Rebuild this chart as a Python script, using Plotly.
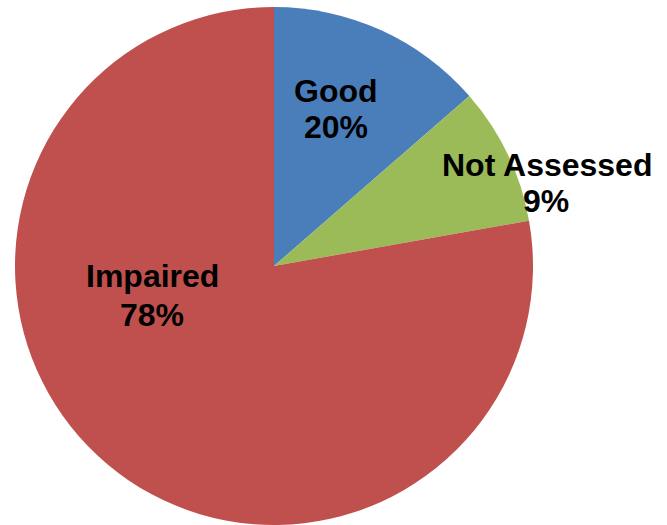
import plotly.graph_objects as go

categories = ["Good", "Not Assessed", "Impaired"]
values = [13.6, 8.6, 77.8]
pct_labels = ["20%", "9%", "78%"]  # as printed on the chart
colors = ["#4a7ebb", "#9bbb59", "#c0504d"]

W, H = 667, 525
ml, mr, mt, mb = 15, 134, 7, 0
pw, ph = W - ml - mr, H - mt - mb

fig = go.Figure(
    go.Pie(
        labels=categories,
        values=values,
        sort=False,
        direction="clockwise",
        rotation=0,
        marker=dict(colors=colors, line=dict(width=0)),
        textinfo="none",
        hoverinfo="label+percent",
        showlegend=False,
        automargin=False,
    )
)

# label placement in pixel coords (centre of each text line)
label_pos = {
    "Good": [(336, 91), (336, 127)],
    "Not Assessed": [(547, 165), (546, 201)],
    "Impaired": [(152, 276), (152, 315)],
}


def px_to_paper(x, y):
    return (x - ml) / pw, (H - mb - y) / ph


annotations = []
for cat, pct in zip(categories, pct_labels):
    for text, (x, y) in zip([cat, pct], label_pos[cat]):
        xp, yp = px_to_paper(x, y)
        annotations.append(
            dict(
                text=f"<b>{text}</b>",
                x=xp,
                y=yp,
                xref="paper",
                yref="paper",
                xanchor="center",
                yanchor="middle",
                showarrow=False,
                font=dict(family="Liberation Sans, Arial, sans-serif", size=32, color="#000000"),
            )
        )

fig.update_layout(
    width=W,
    height=H,
    margin=dict(l=ml, r=mr, t=mt, b=mb, pad=0),
    paper_bgcolor="white",
    plot_bgcolor="white",
    annotations=annotations,
)

fig.write_html(
    "out.html",
    config={"displayModeBar": False},
    post_script="document.body.style.margin='0';document.body.style.padding='0';",
)
